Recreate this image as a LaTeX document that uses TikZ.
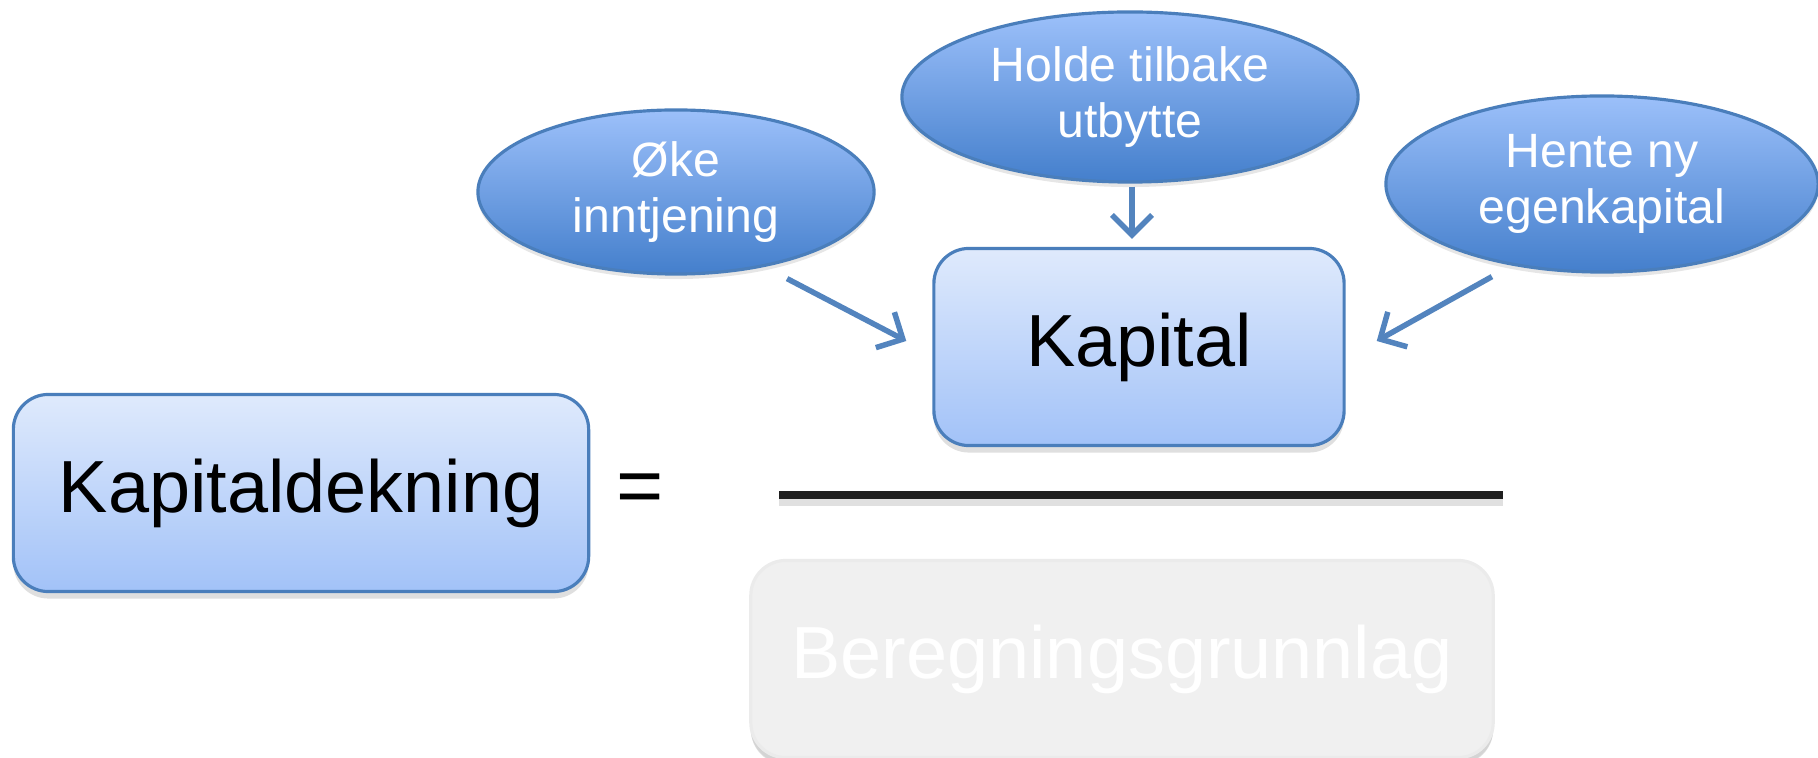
\documentclass[tikz,border=0pt]{standalone}
\usepackage{fontspec}
\setmainfont{Liberation Sans}
\usetikzlibrary{positioning,shapes.geometric,arrows.meta,shadows}

\definecolor{boxtop}{HTML}{DFEAFC}
\definecolor{boxbot}{HTML}{A2C2F8}
\definecolor{ovaltop}{HTML}{9CC0FA}
\definecolor{ovalbot}{HTML}{447FCC}
\definecolor{rim}{HTML}{4A7EBB}
\definecolor{greybox}{HTML}{F0F0F0}

\begin{document}
\begin{tikzpicture}[x=0.01cm,y=-0.01cm,
	box/.style={draw=rim,line width=0.9pt,rounded corners=0.35cm,top color=boxtop,bottom color=boxbot,font=\fontsize{21}{25}\selectfont,drop shadow={shadow xshift=0pt,shadow yshift=-0.07cm,opacity=0.25}},
	oval/.style={ellipse,draw=rim,line width=0.9pt,top color=ovaltop,bottom color=ovalbot,text=white,align=center,inner sep=0pt,font=\fontsize{13.7}{15.9}\selectfont,drop shadow={shadow xshift=0pt,shadow yshift=-0.05cm,opacity=0.2}},
	arr/.style={-{Straight Barb[length=0.2cm,width=0.4cm]},line width=0.055cm,color=rim!95!white}]

\useasboundingbox (0,0) rectangle (1818,758);

\node[box,minimum width=5.75cm,minimum height=1.97cm](kd) at (301,493) {Kapitaldekning};
\node[font=\fontsize{23}{25}\selectfont](eq) at (640,494) {=};
\node[box,minimum width=4.1cm,minimum height=1.97cm](kap) at (1139,347) {Kapital};
\node[box,draw=greybox!98!black,fill=greybox,top color=greybox,bottom color=greybox,text=white,minimum width=7.42cm,minimum height=1.97cm,drop shadow={shadow xshift=0pt,shadow yshift=-0.06cm,opacity=0.12}](grl) at (1122,659) {Beregningsgrunnlag};

\coordinate (barl) at (779,495);
\coordinate (barr) at (1503,495);
\draw[line width=0.09cm,black!20,opacity=0.6]([yshift=-0.06cm]barl)--([yshift=-0.06cm]barr);
\draw[line width=0.075cm,black!88](barl)--(barr);

\foreach \n/\x/\y/\w/\h/\t in {oke/676/192/3.96/1.64/{Øke\\inntjening},hold/1130/97/4.56/1.70/{Holde tilbake\\utbytte},hente/1602/184/4.32/1.76/{Hente ny\\egenkapital}}{
	\node[oval,minimum width=\w cm,minimum height=\h cm](\n) at (\x,\y) {\t};
}

\draw[arr]([xshift=1.11cm,yshift=-0.03cm]oke.south)--([xshift=-0.26cm,yshift=0.06cm]kap.west);
\draw[arr,shorten >=0.08cm]([xshift=0.02cm,yshift=-0.03cm]hold.south)--([xshift=0.02cm]hold.south |- kap.north);
\draw[arr]([xshift=-1.10cm,yshift=-0.03cm]hente.south)--([xshift=0.31cm,yshift=0.06cm]kap.east);
\end{tikzpicture}
\end{document}
